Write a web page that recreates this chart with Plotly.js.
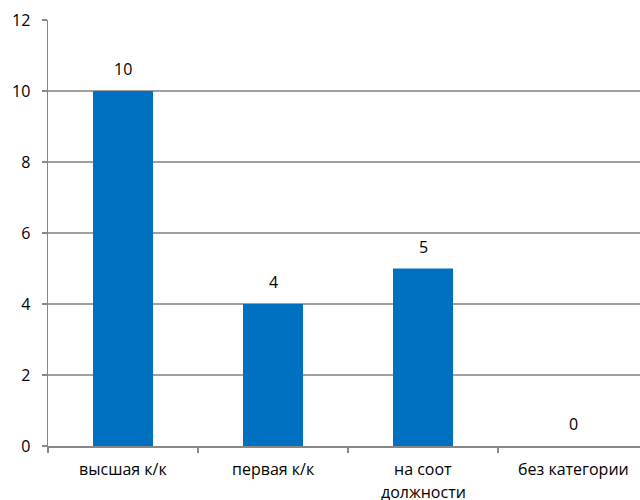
<!DOCTYPE html>
<html>
<head>
<meta charset="utf-8">
<script src="https://cdn.plot.ly/plotly-3.0.1.min.js"></script>
<style>
html,body{margin:0;padding:0;overflow:hidden;background:#fff;}
#chart{width:660px;height:500px;}
</style>
</head>
<body>
<div id="chart"></div>
<script>
const categories = ["высшая к/к", "первая к/к", "на соот<br>должности", "без категории"];
const values = [10, 4, 5, 0];
const yTicks = [0, 2, 4, 6, 8, 10, 12];

const FONT = "Open Sans, Noto Sans, sans-serif";

const trace = {
  type: "bar",
  x: categories,
  y: values,
  marker: {color: "#0070C0"},
  width: 0.4,
  hoverinfo: "none"
};

const annotations = [];
categories.forEach((c, i) => {
  annotations.push({
    x: c, y: values[i], xref: "x", yref: "y",
    text: String(values[i]),
    showarrow: false, yanchor: "middle", yshift: 22,
    font: {family: FONT, size: 16, color: "#000"}
  });
  c.split("<br>").forEach((line, k) => {
    annotations.push({
      x: c, y: 0, xref: "x", yref: "paper",
      text: line,
      showarrow: false, yanchor: "middle", yshift: -23 - 23 * k,
      font: {family: FONT, size: 16, color: "#000"}
    });
  });
});

const layout = {
  width: 660, height: 500,
  margin: {l: 48, r: 12, t: 20, b: 54},
  paper_bgcolor: "#fff", plot_bgcolor: "#fff",
  showlegend: false,
  font: {family: FONT, size: 16, color: "#000"},
  xaxis: {
    type: "category",
    range: [-0.5, 3.5],
    showline: true, linecolor: "#878787", linewidth: 1.5,
    ticks: "outside", tickson: "boundaries", ticklen: 5, tickcolor: "#878787", tickwidth: 1.5,
    showgrid: false, zeroline: false,
    showticklabels: false
  },
  yaxis: {
    range: [0, 12],
    tickvals: yTicks,
    showline: true, linecolor: "#878787", linewidth: 1.5,
    ticks: "outside", ticklen: 5, tickcolor: "#878787", tickwidth: 1.5,
    showgrid: true, gridcolor: "#a0a0a0", gridwidth: 1.5,
    zeroline: false,
    tickfont: {size: 16},
    ticklabelstandoff: 8
  },
  annotations: annotations
};

Plotly.newPlot("chart", [trace], layout, {displayModeBar: false, staticPlot: true});
</script>
</body>
</html>
